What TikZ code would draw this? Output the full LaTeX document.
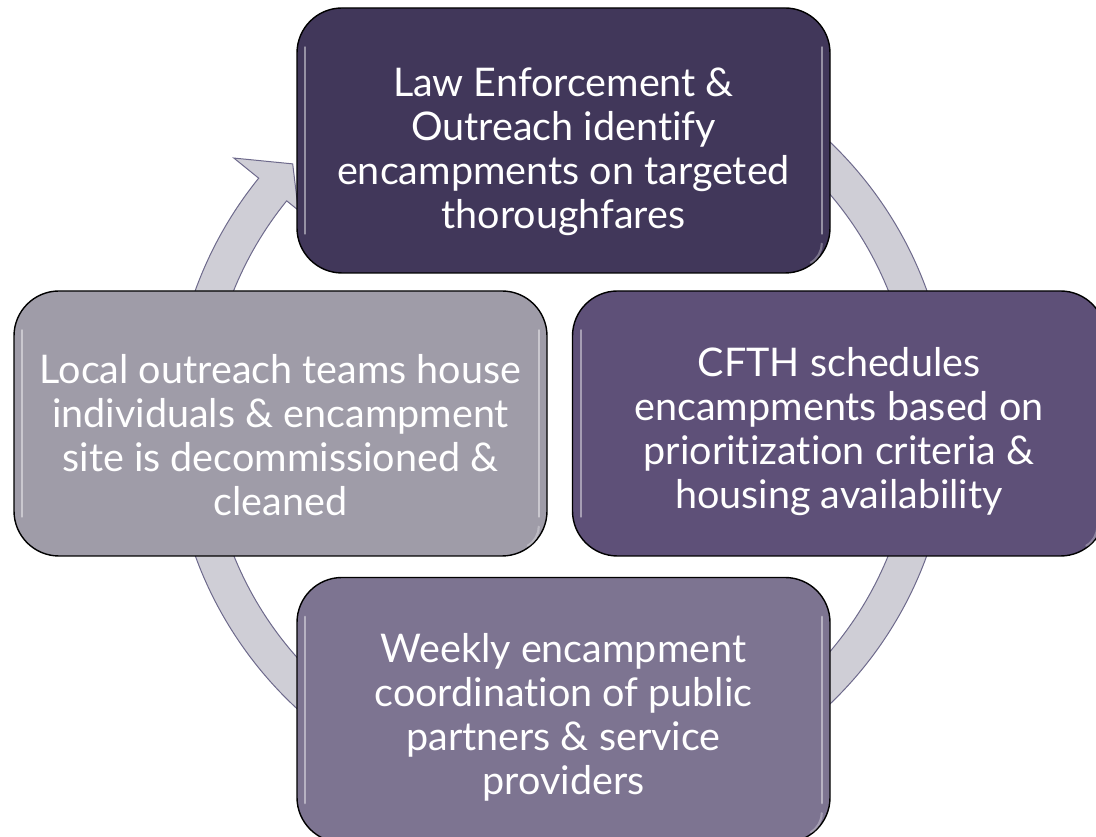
\documentclass[tikz,border=0pt]{standalone}
\usepackage{fontspec}
\setmainfont{Lato}[Ligatures=NoCommon]
\definecolor{ringfill}{HTML}{CFCED6}
\definecolor{ringline}{HTML}{6E6A8C}
\definecolor{cA}{HTML}{41375A}
\definecolor{cB}{HTML}{5E5078}
\definecolor{cC}{HTML}{7D7491}
\definecolor{cD}{HTML}{9F9CA8}
\tikzset{
  stepbox/.style={draw=black, line width=1.4pt, rounded corners=45pt,
    minimum width=533pt, minimum height=265pt, inner sep=0pt},
  steptext/.style={text=white, align=center, inner sep=0pt,
    font=\fontsize{39.5}{44}\selectfont},
  gloss/.style={white, opacity=0.45, line width=2.2pt, line cap=round},
  ringstyle/.style={fill=ringfill, draw=ringline, line width=1pt, line join=miter}
}
\begin{document}
\begin{tikzpicture}[x=1pt,y=1pt]
\useasboundingbox (0,0) rectangle (1096,837);
\clip (0,0) rectangle (1096,837);
% circular arrow
\coordinate (c) at (561,414);
\draw[ringstyle] ([shift={(90:389pt)}]c) arc[start angle=90, end angle=-219, radius=389pt]
  -- ([shift={(141:421pt)}]c) -- ([shift={(136.0:373pt)}]c) -- ([shift={(141:338pt)}]c)
  -- ([shift={(141:353pt)}]c) arc[start angle=-219, end angle=90, radius=353pt] -- cycle;
% boxes
\node[stepbox, fill=cA] (b1) at (563.5,696.5) {};
\node[stepbox, fill=cB] (b2) at (839,413.5) {};
\node[stepbox, fill=cC] (b3) at (563.5,127) {};
\node[stepbox, fill=cD] (b4) at (280.5,413.5) {};
\foreach \b in {b1,b2,b3,b4}{
  \draw[gloss] ([shift={(9pt,40pt)}]\b.south west) -- ([shift={(9pt,-40pt)}]\b.north west);
  \draw[gloss] ([shift={(-9pt,40pt)}]\b.south east) -- ([shift={(-9pt,-40pt)}]\b.north east);
  \draw[gloss, opacity=0.3] ([shift={(-9pt,30pt)}]\b.south east) arc[start angle=0, end angle=-60, radius=22pt];
}
\node[steptext] (t1) at (563.5,685.5) {Law Enforcement \&\\Outreach identify\\encampments on targeted\\thoroughfares};
\node[steptext] (t2) at (839,405) {CFTH schedules\\encampments based on\\prioritization criteria \&\\housing availability};
\node[steptext] (t3) at (563.5,120) {Weekly encampment\\coordination of public\\partners \& service\\providers};
\node[steptext] (t4) at (280.5,402) {Local outreach teams house\\individuals \& encampment\\site is decommissioned \&\\cleaned};
\end{tikzpicture}
\end{document}
